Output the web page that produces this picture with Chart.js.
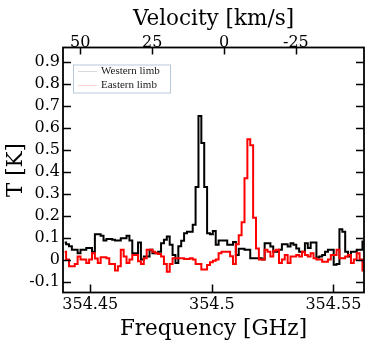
<!DOCTYPE html>
<html>
<head>
<meta charset="utf-8">
<script src="https://cdn.jsdelivr.net/npm/chart.js@4"></script>
<style>
  body { margin: 0; background: #fff; }
  canvas { display: block; }
</style>
</head>
<body>
<canvas id="spectrum" width="374" height="344"></canvas>
<script>
// spectrum channels (GHz)
const freqStart = 354.43888;   // left edge of first channel
const chanWidth = 0.0011832;   // ~1 km/s
const freqMin = 354.43878;
const freqMax = 354.56257;
const restFreq = 354.505;      // velocity zero
const lightSpeed = 299792.458; // km/s

// brightness temperature per channel [K]
const westernLimb = [
    0.077, 0.07, 0.06, 0.044, 0.044, 0.029, 0.044, 0.044, 0.052, 0.052,
    0.036, 0.115, 0.115, 0.108, 0.087, 0.093, 0.093, 0.09, 0.087, 0.087,
    0.097, 0.097, 0.108, 0.087, 0.029, 0.029, 0.077, 0.0, 0.014, 0.014,
    0.044, 0.029, 0.029, 0.035, 0.074, 0.09, 0.105, 0.067, 0.021, -0.016,
    0.06, 0.085, 0.12, 0.127, 0.127, 0.158, 0.33, 0.653, 0.53, 0.33,
    0.12, 0.115, 0.13, 0.067, 0.087, 0.087, 0.087, 0.067, 0.067, 0.08,
    0.021, 0.049, 0.049, 0.045, 0.045, 0.006, 0.006, 0.006, 0.006, 0.0,
    0.074, 0.074, 0.059, 0.036, 0.036, 0.045, 0.07, 0.07, 0.059, 0.074,
    0.067, 0.05, 0.036, 0.036, 0.074, 0.052, 0.077, 0.077, 0.009, 0.014,
    0.021, 0.036, 0.044, 0.044, -0.024, -0.02, 0.138, 0.127, 0.036, 0.014,
    0.036, 0.036, 0.044, 0.044, 0.082
];

const easternLimb = [
    0.035, 0.0, -0.03, -0.03, -0.02, 0.014, 0.0, 0.0, -0.016, 0.0,
    0.029, 0.005, -0.016, 0.01, 0.01, 0.006, -0.02, -0.02, -0.05, -0.03,
    0.044, 0.014, -0.016, 0.0, 0.021, 0.021, -0.008, -0.02, 0.006, 0.044,
    0.044, 0.035, 0.029, 0.025, 0.014, -0.02, -0.055, -0.02, 0.006, 0.006,
    0.006, 0.006, 0.002, 0.002, 0.006, 0.0, -0.02, -0.02, -0.045, -0.045,
    -0.025, -0.012, -0.005, 0.0, 0.029, 0.036, 0.036, 0.036, 0.015, -0.02,
    0.07, 0.11, 0.17, 0.37, 0.547, 0.52, 0.19, 0.05, 0.0, 0.0,
    0.044, 0.036, 0.014, 0.04, 0.045, -0.016, 0.0, 0.021, -0.016, 0.014,
    0.014, 0.021, 0.014, 0.036, 0.021, 0.014, 0.029, 0.006, 0.0, 0.0,
    -0.01, -0.01, 0.0, 0.021, 0.021, 0.044, 0.006, 0.006, 0.014, 0.021,
    -0.016, 0.0, 0.029, 0.0, -0.05
];

const seriesNames = ['Western limb', 'Eastern limb'];
const freqTicks = [354.45, 354.5, 354.55];
const velTicks = [50, 25, 0, -25];
const tempTicks = [-0.1, 0, 0.1, 0.2, 0.3, 0.4, 0.5, 0.6, 0.7, 0.8, 0.9];

document.addEventListener("DOMContentLoaded", function() {
    const channelFreqs = westernLimb.map((_, i) => freqStart + (i + 0.5) * chanWidth);

    function toVelocity(f) {
        return lightSpeed * (1 - f / restFreq);
    }

    function points(values) {
        return values.map((v, i) => ({ x: channelFreqs[i], y: v }));
    }

    const tickFont = { family: 'DejaVu Serif', size: 16 };
    const titleFont = { family: 'DejaVu Serif', size: 21.5 };
    const noGrid = { display: false, drawTicks: false, tickLength: 0 };

    // inward ticks on all four sides plus the box
    const frameTicks = {
        id: 'frameTicks',
        afterDatasetsDraw(chart) {
            const { ctx, chartArea: a, scales } = chart;
            ctx.save();
            ctx.strokeStyle = '#000';
            ctx.lineWidth = 1.5;
            ctx.beginPath();
            tempTicks.forEach(v => {
                const y = Math.round(scales.y.getPixelForValue(v)) + 0.5;
                ctx.moveTo(a.left, y); ctx.lineTo(a.left + 8, y);
                ctx.moveTo(a.right, y); ctx.lineTo(a.right - 8, y);
            });
            freqTicks.forEach(f => {
                const x = Math.round(scales.x.getPixelForValue(f)) + 0.5;
                ctx.moveTo(x, a.bottom); ctx.lineTo(x, a.bottom - 8);
            });
            velTicks.forEach(v => {
                const x = Math.round(scales.x2.getPixelForValue(v)) + 0.5;
                ctx.moveTo(x, a.top); ctx.lineTo(x, a.top + 7);
            });
            ctx.stroke();
            ctx.lineWidth = 1.8;
            ctx.strokeRect(a.left, a.top, a.right - a.left, a.bottom - a.top);
            ctx.restore();
        }
    };

    // small boxed legend in the upper left corner
    const cornerLegend = {
        id: 'cornerLegend',
        afterDraw(chart) {
            const { ctx, chartArea: a } = chart;
            const x0 = a.left + 10, y0 = a.top + 17;
            ctx.save();
            ctx.fillStyle = '#fff';
            ctx.fillRect(x0, y0, 97, 28);
            ctx.strokeStyle = '#b8c8dc';
            ctx.lineWidth = 1;
            ctx.strokeRect(x0 + 0.5, y0 + 0.5, 97, 28);
            const lineColors = ['#d9d9d9', '#ffd0d0'];
            ctx.font = '11px "Liberation Serif"';
            ctx.textBaseline = 'middle';
            seriesNames.forEach((name, i) => {
                const y = y0 + 7 + i * 14;
                ctx.strokeStyle = lineColors[i];
                ctx.beginPath();
                ctx.moveTo(x0 + 5, y); ctx.lineTo(x0 + 24, y);
                ctx.stroke();
                ctx.fillStyle = '#1a1a1a';
                ctx.fillText(name, x0 + 28, y);
            });
            ctx.restore();
        }
    };

    const ctx = document.getElementById('spectrum').getContext('2d');
    new Chart(ctx, {
        type: 'line',
        data: {
            datasets: [
                {
                    label: seriesNames[1],
                    data: points(easternLimb),
                    borderColor: '#ff0000',
                    borderWidth: 2,
                    stepped: 'middle',
                    pointRadius: 0,
                    fill: false
                },
                {
                    label: seriesNames[0],
                    data: points(westernLimb),
                    borderColor: '#000000',
                    borderWidth: 2,
                    stepped: 'middle',
                    pointRadius: 0,
                    fill: false
                }
            ]
        },
        options: {
            responsive: false,
            animation: false,
            layout: { padding: { left: 0, right: 10, top: 0, bottom: 0 } },
            plugins: {
                legend: { display: false },
                tooltip: { enabled: false }
            },
            scales: {
                x: {
                    type: 'linear',
                    position: 'bottom',
                    min: freqMin,
                    max: freqMax,
                    grid: noGrid,
                    border: { display: false },
                    afterBuildTicks: s => { s.ticks = freqTicks.map(v => ({ value: v })); },
                    afterFit: s => { s.height = 51.5; },
                    ticks: {
                        font: tickFont, color: '#000', padding: 3,
                        autoSkip: false, maxRotation: 0,
                        callback: v => String(v)
                    },
                    title: {
                        display: true, text: 'Frequency [GHz]', font: titleFont, color: '#000',
                        padding: { top: 0, bottom: 2.1 }
                    }
                },
                x2: {
                    type: 'linear',
                    position: 'top',
                    reverse: true,
                    min: toVelocity(freqMax),
                    max: toVelocity(freqMin),
                    grid: noGrid,
                    border: { display: false },
                    afterBuildTicks: s => { s.ticks = velTicks.map(v => ({ value: v })); },
                    afterFit: s => { s.height = 47.5; },
                    ticks: {
                        font: tickFont, color: '#000', padding: -5.4,
                        autoSkip: false, maxRotation: 0,
                        callback: v => String(v)
                    },
                    title: {
                        display: true, text: 'Velocity [km/s]', font: titleFont, color: '#000',
                        padding: { top: 6.6, bottom: 0 }
                    }
                },
                y: {
                    type: 'linear',
                    position: 'left',
                    min: -0.15,
                    max: 0.965,
                    grid: noGrid,
                    border: { display: false },
                    afterBuildTicks: s => { s.ticks = tempTicks.map(v => ({ value: v })); },
                    afterFit: s => { s.width = 63; },
                    ticks: {
                        font: tickFont, color: '#000', padding: 3,
                        callback: v => String(v)
                    },
                    title: {
                        display: true, text: 'T [K]', font: titleFont, color: '#000',
                        padding: { top: 3.3, bottom: 0 }
                    }
                }
            }
        },
        plugins: [frameTicks, cornerLegend]
    });
});
</script>
</body>
</html>
